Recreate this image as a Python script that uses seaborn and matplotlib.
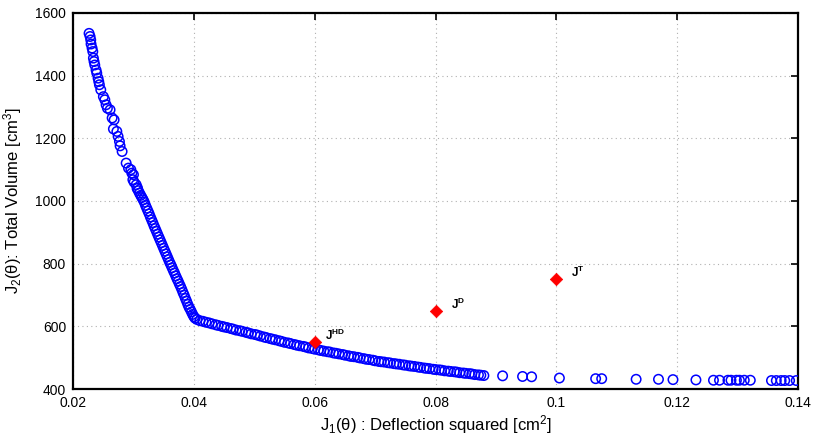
import matplotlib
matplotlib.use("Agg")
import matplotlib.pyplot as plt
import seaborn as sns
import pandas as pd

# ---- data ----
# sparse upper part of the Pareto front
upper_x = [0.02265, 0.02282, 0.02293, 0.02298, 0.02315, 0.02327, 0.02337, 0.02348, 0.0236,
           0.02381, 0.02393, 0.02414, 0.02426, 0.02436, 0.02459, 0.02502, 0.02526, 0.02547,
           0.02569, 0.02613, 0.02647, 0.0268, 0.02668, 0.02725, 0.02746, 0.02768, 0.02779,
           0.02812, 0.02879, 0.02917, 0.02957, 0.02973, 0.0300, 0.0299, 0.03011, 0.03045, 0.03066]
upper_y = [1535, 1525, 1514, 1501, 1488, 1477, 1456, 1445, 1434,
           1418, 1408, 1392, 1381, 1371, 1355, 1333, 1323, 1307,
           1296, 1291, 1265, 1259, 1230, 1222, 1206, 1190, 1176,
           1158, 1121, 1105, 1100, 1089, 1084, 1068, 1060, 1052, 1042]

# dense steep part
steep_x = [0.0306, 0.0308, 0.0310, 0.0312, 0.0314, 0.0316, 0.0318, 0.0320, 0.0322, 0.0324,
           0.0326, 0.0328, 0.0330, 0.0332, 0.0334, 0.0336, 0.0338, 0.0340, 0.0342, 0.0344,
           0.0346, 0.0348, 0.0350, 0.0352, 0.0354, 0.0356, 0.0358, 0.0360, 0.0362, 0.0364,
           0.0366, 0.0368, 0.0370, 0.0372, 0.0374, 0.0376, 0.0378, 0.0380, 0.0382, 0.0384,
           0.0386, 0.0388, 0.0390, 0.0392, 0.0394, 0.0396, 0.0398, 0.0400, 0.0402]
steep_y = [1040, 1033, 1025, 1018, 1011, 1004, 996, 986, 977, 968,
           959, 949, 940, 931, 921, 912, 903, 894, 885, 876,
           867, 858, 849, 840, 831, 822, 813, 804, 796, 787,
           778, 770, 761, 752, 744, 735, 727, 718, 708, 699,
           689, 680, 670, 661, 654, 646, 638, 631, 626]

# dense flat part
lower_x = [0.0405, 0.0410, 0.0415, 0.0420, 0.0425, 0.0430, 0.0436, 0.0440, 0.0446, 0.0450,
           0.0455, 0.0461, 0.0465, 0.0470, 0.0476, 0.0480, 0.0486, 0.0490, 0.0495, 0.0501,
           0.0505, 0.0510, 0.0516, 0.0520, 0.0526, 0.0530, 0.0535, 0.0541, 0.0545, 0.0550,
           0.0556, 0.0560, 0.0566, 0.0570, 0.0575, 0.0581, 0.0585, 0.0590, 0.0596, 0.0600,
           0.0606, 0.0610, 0.0615, 0.0621, 0.0625, 0.0631, 0.0635, 0.0640, 0.0646, 0.0650,
           0.0656, 0.0660, 0.0665, 0.0671, 0.0675, 0.0681, 0.0685, 0.0690, 0.0696, 0.0700,
           0.0706, 0.0710, 0.0715, 0.0721, 0.0725, 0.0731, 0.0735, 0.0740, 0.0746, 0.0750,
           0.0756, 0.0760, 0.0765, 0.0771, 0.0775, 0.0781, 0.0785, 0.0790, 0.0796, 0.0800,
           0.0806, 0.0810, 0.0815, 0.0821, 0.0825, 0.0831, 0.0835, 0.0840, 0.0846, 0.0850,
           0.0856, 0.0860, 0.0865, 0.0871, 0.0875, 0.0880]
lower_y = [622, 618, 616, 613, 611, 608, 605, 603, 600, 598,
           596, 593, 591, 588, 586, 584, 581, 579, 576, 574,
           572, 569, 566, 564, 561, 559, 557, 554, 552, 549,
           547, 545, 542, 540, 538, 536, 534, 531, 529, 527,
           525, 523, 521, 519, 518, 515, 514, 512, 510, 508,
           506, 504, 503, 501, 499, 497, 495, 494, 492, 490,
           488, 487, 486, 484, 483, 481, 480, 479, 477, 476,
           474, 473, 472, 470, 469, 467, 466, 465, 463, 462,
           461, 460, 458, 457, 456, 455, 454, 452, 451, 450,
           449, 448, 446, 445, 444, 443]

# sparse tail
tail_x = [0.0911, 0.0944, 0.0959, 0.1005, 0.1065, 0.1075, 0.1132, 0.1169, 0.1193, 0.1231,
          0.1260, 0.1270, 0.1284, 0.1289, 0.1298, 0.1303, 0.1311, 0.1321, 0.1356, 0.1364,
          0.1372, 0.1378, 0.1386, 0.1397]
tail_y = [442, 440, 439, 435, 433, 433, 431, 431, 430, 429,
          428, 428, 428, 428, 428, 428, 428, 428, 427, 427,
          427, 427, 427, 427]

# reference designs
ref_x = [0.06, 0.08, 0.10]
ref_y = [550, 650, 750]
ref_labels = ["HD", "D", "T"]

front = pd.DataFrame({
    "J1": upper_x + steep_x + lower_x + tail_x,
    "J2": upper_y + steep_y + lower_y + tail_y,
})
refs = pd.DataFrame({"J1": ref_x, "J2": ref_y, "name": ref_labels})

# ---- style ----
sns.set_theme(style="white")
plt.rcParams["font.family"] = ["Liberation Sans", "DejaVu Sans"]
plt.rcParams["mathtext.fontset"] = "custom"
plt.rcParams["mathtext.rm"] = "Liberation Sans"
plt.rcParams["mathtext.it"] = "Liberation Sans:italic"
plt.rcParams["mathtext.bf"] = "Liberation Sans:bold"
plt.rcParams["mathtext.default"] = "regular"

fig = plt.figure(figsize=(8.17, 4.42), dpi=100)
ax = fig.add_axes([0.0894, 0.1199, 0.8874, 0.8507])

sns.scatterplot(data=front, x="J1", y="J2", ax=ax, marker="o", s=46,
                facecolors="none", edgecolor="#0000ff", linewidth=1.1,
                color="#0000ff", legend=False, zorder=3)
sns.scatterplot(data=refs, x="J1", y="J2", ax=ax, marker="D", s=40,
                color="#ff0000", edgecolor="#ff0000", linewidth=0.5,
                legend=False, zorder=4)

offsets = {"HD": 0.0017, "D": 0.0025, "T": 0.0025}
for xv, yv, nm in zip(ref_x, ref_y, ref_labels):
    ax.text(xv + offsets[nm], yv + 6, r"$\mathbf{J^{%s}}$" % nm,
            fontsize=8.5, color="black", va="baseline", ha="left")

ax.set_xlim(0.02, 0.14)
ax.set_ylim(400, 1600)
ax.set_xticks([0.02, 0.04, 0.06, 0.08, 0.10, 0.12, 0.14])
ax.set_xticklabels(["0.02", "0.04", "0.06", "0.08", "0.1", "0.12", "0.14"])
ax.set_yticks([400, 600, 800, 1000, 1200, 1400, 1600])

ax.grid(True, linestyle=(0, (1, 3)), color="#b0b0b0", linewidth=0.8)
ax.set_axisbelow(True)
for sp in ax.spines.values():
    sp.set_visible(True)
    sp.set_color("black")
    sp.set_linewidth(1.6)
ax.tick_params(axis="both", which="major", direction="in", length=5, width=1.2,
               top=True, right=True, labelsize=10, colors="black", pad=5)

ax.set_xlabel("J$_1$(θ) : Deflection squared [cm$^2$]", fontsize=12, labelpad=2,
              color="black")
ax.set_ylabel("J$_2$(θ): Total Volume [cm$^3$]", fontsize=12, labelpad=8,
              color="black")

fig.savefig("out.png", dpi=100)
